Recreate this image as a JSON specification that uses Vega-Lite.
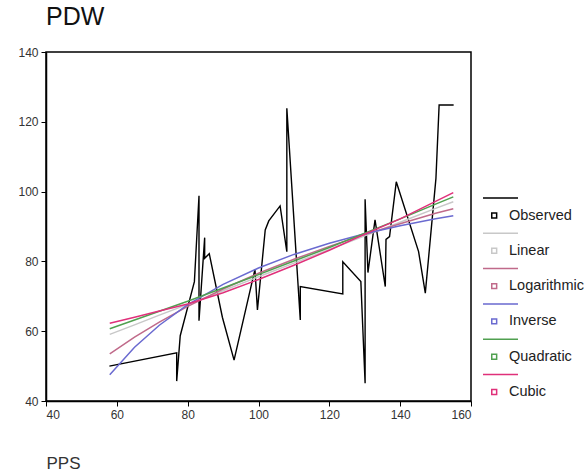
{
  "$schema": "https://vega.github.io/schema/vega-lite/v6.json",
  "width": 425,
  "height": 349,
  "autosize": "none",
  "padding": {"left": 46, "top": 52, "right": 115, "bottom": 74},
  "background": "white",
  "title": {
    "text": "PDW",
    "anchor": "start",
    "frame": "group",
    "fontSize": 25,
    "fontWeight": "normal",
    "font": "Liberation Sans",
    "color": "#111",
    "baseline": "alphabetic",
    "offset": 4,
    "dy": 8
  },
  "config": {
    "view": {"stroke": "#000", "strokeWidth": 1.5},
    "axis": {
      "grid": false,
      "domainColor": "#000",
      "domainWidth": 1.5,
      "tickColor": "#000",
      "tickSize": 5,
      "labelFont": "Liberation Sans",
      "labelFontSize": 12,
      "labelColor": "#333",
      "titleFont": "Liberation Sans"
    }
  },
  "datasets": {
    "obs": [
      {"model": "Observed", "ord": 1, "x": 57.9, "y": 50.0},
      {"model": "Observed", "ord": 2, "x": 76.9, "y": 53.8},
      {"model": "Observed", "ord": 3, "x": 76.9, "y": 45.7},
      {"model": "Observed", "ord": 4, "x": 77.9, "y": 58.7},
      {"model": "Observed", "ord": 5, "x": 81.9, "y": 74.2},
      {"model": "Observed", "ord": 6, "x": 83.2, "y": 98.8},
      {"model": "Observed", "ord": 7, "x": 83.2, "y": 63.0},
      {"model": "Observed", "ord": 8, "x": 84.8, "y": 86.8},
      {"model": "Observed", "ord": 9, "x": 84.8, "y": 80.9},
      {"model": "Observed", "ord": 10, "x": 86.1, "y": 82.2},
      {"model": "Observed", "ord": 11, "x": 89.8, "y": 64.0},
      {"model": "Observed", "ord": 12, "x": 93.1, "y": 51.7},
      {"model": "Observed", "ord": 13, "x": 99.0, "y": 77.7},
      {"model": "Observed", "ord": 14, "x": 99.7, "y": 66.1},
      {"model": "Observed", "ord": 15, "x": 101.9, "y": 89.0},
      {"model": "Observed", "ord": 16, "x": 102.9, "y": 91.6},
      {"model": "Observed", "ord": 17, "x": 106.1, "y": 95.9},
      {"model": "Observed", "ord": 18, "x": 108.0, "y": 82.8},
      {"model": "Observed", "ord": 19, "x": 108.0, "y": 123.9},
      {"model": "Observed", "ord": 20, "x": 111.8, "y": 63.2},
      {"model": "Observed", "ord": 21, "x": 111.8, "y": 72.8},
      {"model": "Observed", "ord": 22, "x": 123.8, "y": 70.7},
      {"model": "Observed", "ord": 23, "x": 123.8, "y": 79.9},
      {"model": "Observed", "ord": 24, "x": 128.9, "y": 74.2},
      {"model": "Observed", "ord": 25, "x": 130.1, "y": 45.1},
      {"model": "Observed", "ord": 26, "x": 130.1, "y": 97.8},
      {"model": "Observed", "ord": 27, "x": 130.9, "y": 76.8},
      {"model": "Observed", "ord": 28, "x": 132.9, "y": 91.9},
      {"model": "Observed", "ord": 29, "x": 135.8, "y": 72.8},
      {"model": "Observed", "ord": 30, "x": 136.0, "y": 86.3},
      {"model": "Observed", "ord": 31, "x": 137.0, "y": 87.1},
      {"model": "Observed", "ord": 32, "x": 138.9, "y": 102.8},
      {"model": "Observed", "ord": 33, "x": 145.2, "y": 82.8},
      {"model": "Observed", "ord": 34, "x": 147.1, "y": 70.9},
      {"model": "Observed", "ord": 35, "x": 150.1, "y": 103.8},
      {"model": "Observed", "ord": 36, "x": 151.0, "y": 124.8},
      {"model": "Observed", "ord": 37, "x": 155.1, "y": 124.8}
    ],
    "fit": [
      {"model": "Linear", "ord": 1, "x": 58, "y": 59.1},
      {"model": "Linear", "ord": 2, "x": 65, "y": 61.8},
      {"model": "Linear", "ord": 3, "x": 72, "y": 64.6},
      {"model": "Linear", "ord": 4, "x": 80, "y": 67.7},
      {"model": "Linear", "ord": 5, "x": 90, "y": 71.6},
      {"model": "Linear", "ord": 6, "x": 100, "y": 75.6},
      {"model": "Linear", "ord": 7, "x": 110, "y": 79.5},
      {"model": "Linear", "ord": 8, "x": 120, "y": 83.4},
      {"model": "Linear", "ord": 9, "x": 130, "y": 87.3},
      {"model": "Linear", "ord": 10, "x": 140, "y": 91.2},
      {"model": "Linear", "ord": 11, "x": 150, "y": 95.2},
      {"model": "Linear", "ord": 12, "x": 155, "y": 97.1},
      {"model": "Logarithmic", "ord": 1, "x": 58, "y": 53.5},
      {"model": "Logarithmic", "ord": 2, "x": 65, "y": 58.3},
      {"model": "Logarithmic", "ord": 3, "x": 72, "y": 62.6},
      {"model": "Logarithmic", "ord": 4, "x": 80, "y": 67.1},
      {"model": "Logarithmic", "ord": 5, "x": 90, "y": 72.1},
      {"model": "Logarithmic", "ord": 6, "x": 100, "y": 76.6},
      {"model": "Logarithmic", "ord": 7, "x": 110, "y": 80.6},
      {"model": "Logarithmic", "ord": 8, "x": 120, "y": 84.3},
      {"model": "Logarithmic", "ord": 9, "x": 130, "y": 87.7},
      {"model": "Logarithmic", "ord": 10, "x": 140, "y": 90.8},
      {"model": "Logarithmic", "ord": 11, "x": 150, "y": 93.8},
      {"model": "Logarithmic", "ord": 12, "x": 155, "y": 95.1},
      {"model": "Inverse", "ord": 1, "x": 58, "y": 47.5},
      {"model": "Inverse", "ord": 2, "x": 65, "y": 55.4},
      {"model": "Inverse", "ord": 3, "x": 72, "y": 61.7},
      {"model": "Inverse", "ord": 4, "x": 80, "y": 67.6},
      {"model": "Inverse", "ord": 5, "x": 90, "y": 73.4},
      {"model": "Inverse", "ord": 6, "x": 100, "y": 78.1},
      {"model": "Inverse", "ord": 7, "x": 110, "y": 82.0},
      {"model": "Inverse", "ord": 8, "x": 120, "y": 85.2},
      {"model": "Inverse", "ord": 9, "x": 130, "y": 87.9},
      {"model": "Inverse", "ord": 10, "x": 140, "y": 90.2},
      {"model": "Inverse", "ord": 11, "x": 150, "y": 92.2},
      {"model": "Inverse", "ord": 12, "x": 155, "y": 93.1},
      {"model": "Quadratic", "ord": 1, "x": 58, "y": 60.7},
      {"model": "Quadratic", "ord": 2, "x": 65, "y": 63.2},
      {"model": "Quadratic", "ord": 3, "x": 72, "y": 65.7},
      {"model": "Quadratic", "ord": 4, "x": 80, "y": 68.6},
      {"model": "Quadratic", "ord": 5, "x": 90, "y": 72.4},
      {"model": "Quadratic", "ord": 6, "x": 100, "y": 76.2},
      {"model": "Quadratic", "ord": 7, "x": 110, "y": 80.1},
      {"model": "Quadratic", "ord": 8, "x": 120, "y": 84.0},
      {"model": "Quadratic", "ord": 9, "x": 130, "y": 88.1},
      {"model": "Quadratic", "ord": 10, "x": 140, "y": 92.2},
      {"model": "Quadratic", "ord": 11, "x": 150, "y": 96.4},
      {"model": "Quadratic", "ord": 12, "x": 155, "y": 98.5},
      {"model": "Cubic", "ord": 1, "x": 58, "y": 62.3},
      {"model": "Cubic", "ord": 2, "x": 65, "y": 64.0},
      {"model": "Cubic", "ord": 3, "x": 72, "y": 65.8},
      {"model": "Cubic", "ord": 4, "x": 80, "y": 67.8},
      {"model": "Cubic", "ord": 5, "x": 90, "y": 71.0},
      {"model": "Cubic", "ord": 6, "x": 100, "y": 74.8},
      {"model": "Cubic", "ord": 7, "x": 110, "y": 78.9},
      {"model": "Cubic", "ord": 8, "x": 120, "y": 83.2},
      {"model": "Cubic", "ord": 9, "x": 130, "y": 87.8},
      {"model": "Cubic", "ord": 10, "x": 140, "y": 92.2},
      {"model": "Cubic", "ord": 11, "x": 150, "y": 97.2},
      {"model": "Cubic", "ord": 12, "x": 155, "y": 99.7}
    ]
  },
  "encoding": {
    "x": {
      "field": "x",
      "type": "quantitative",
      "scale": {"domain": [40, 160], "nice": false, "zero": false},
      "axis": {
        "values": [40, 60, 80, 100, 120, 140, 160],
        "labelPadding": 3,
        "title": "PPS",
        "titleFontSize": 17,
        "titleFontWeight": "normal",
        "titleColor": "#333",
        "titleAlign": "left",
        "titleBaseline": "alphabetic",
        "titleX": 0,
        "titleY": 67
      }
    },
    "y": {
      "field": "y",
      "type": "quantitative",
      "scale": {"domain": [40, 140], "nice": false, "zero": false},
      "axis": {
        "values": [40, 60, 80, 100, 120, 140],
        "labelPadding": 3,
        "title": null
      }
    },
    "color": {
      "field": "model",
      "type": "nominal",
      "scale": {
        "domain": ["Observed", "Linear", "Logarithmic", "Inverse", "Quadratic", "Cubic"],
        "range": ["#000000", "#c8c8c8", "#c06a8a", "#6a6ad0", "#50a050", "#e0307a"]
      },
      "legend": {
        "orient": "none",
        "legendX": 436,
        "legendY": 145,
        "title": null,
        "padding": 0,
        "rowPadding": 8.3,
        "symbolType": "M-1,-1H1M-0.5,-0.14H-0.22V0.14H-0.5Z",
        "symbolSize": 1225,
        "symbolStrokeWidth": 1.5,
        "symbolFillColor": "transparent",
        "labelOffset": -10,
        "labelFont": "Liberation Sans",
        "labelFontSize": 14.5,
        "labelColor": "#222"
      }
    },
    "order": {"field": "ord", "type": "quantitative"}
  },
  "layer": [
    {
      "data": {"name": "obs"},
      "mark": {"type": "line", "strokeWidth": 1.4}
    },
    {
      "data": {"name": "fit"},
      "mark": {"type": "line", "strokeWidth": 1.5}
    }
  ]
}
